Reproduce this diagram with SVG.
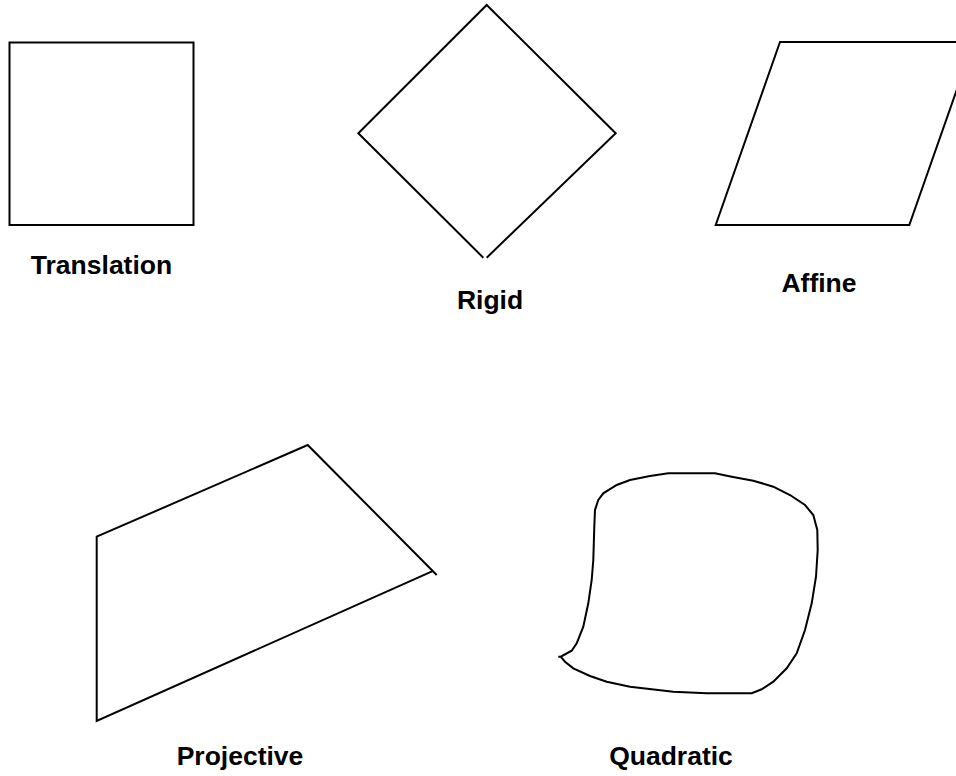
<svg xmlns="http://www.w3.org/2000/svg" width="956" height="776" viewBox="0 0 956 776">
<style>
.s{fill:none;stroke:#000;stroke-width:2;stroke-linejoin:miter}
.t{font-family:"Liberation Sans",Arial,sans-serif;font-weight:bold;font-size:26.5px;text-anchor:middle;fill:#000}
</style>
<rect width="956" height="776" fill="#fff"/>
<g id="translation">
<rect class="s" x="9.5" y="42.5" width="184" height="182.5"/>
<text class="t" x="101.5" y="274">Translation</text>
</g>
<g id="rigid">
<path class="s" d="M483.3,257.7 L358.3,133.3 L486.7,5 L615.7,133.3 L486.7,257.7"/>
<text class="t" x="490" y="308.5">Rigid</text>
</g>
<g id="affine">
<polygon class="s" points="715.7,225 780,42 973.6,42 909.3,225"/>
<text class="t" x="819" y="292">Affine</text>
</g>
<g id="projective">
<path class="s" d="M436.7,575 L307.7,445 L96.7,536.7 L96.7,721 L432,571.3"/>
<text class="t" x="240" y="765">Projective</text>
</g>
<g id="quadratic">
<path class="s" d="M558.3,656.7 L560.7,656.7 L571.7,650.7 L576.7,643.3 L583.3,626.7 L588.3,603.3 L591.7,580 L593.3,560 L594.3,526.7 L595,510 L598.3,500 L603.3,493.3 L616.7,485 L630,480 L650,476 L668.3,473.3 L688.3,473.3 L715,473.3 L731.7,476.7 L753.3,480.7 L773.3,486.7 L790,495 L805,505 L813.3,515 L817.3,530 L817.7,550 L816,576.7 L811.7,603.3 L805,630 L796.7,653.3 L786.7,668.3 L773.3,681.7 L761.7,689.3 L751.7,693.3 L743.3,693.3 L706.7,693.3 L673.3,691.7 L630,686.7 L606.7,681.7 L590,676 L573.3,668.3 L565,661.7 L560.7,656.7"/>
<text class="t" x="671" y="765">Quadratic</text>
</g>
</svg>
